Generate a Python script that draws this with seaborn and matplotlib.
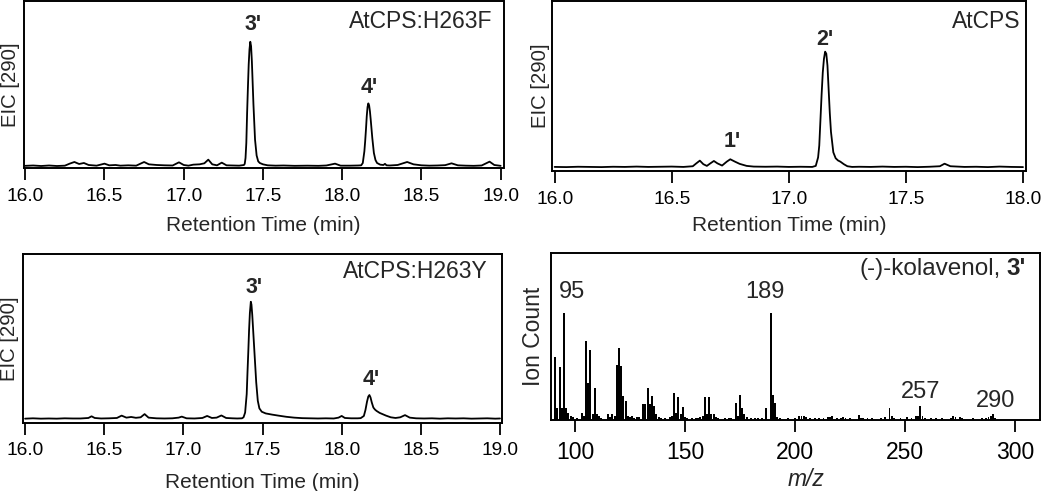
import matplotlib
matplotlib.use("Agg")
import matplotlib.pyplot as plt
import seaborn as sns
import pandas as pd

# ---------------- data ----------------
# Panel A: AtCPS:H263F  (EIC m/z 290)
h263f_time = [
    16.00, 16.05, 16.10, 16.15, 16.20, 16.25, 16.28, 16.31, 16.34, 16.37,
    16.40, 16.45, 16.50, 16.53, 16.57, 16.60, 16.65, 16.70, 16.75, 16.78,
    16.83, 16.88, 16.93, 16.97, 17.00, 17.03, 17.06, 17.10, 17.13, 17.155,
    17.18, 17.21, 17.24, 17.27, 17.31, 17.35, 17.38, 17.385, 17.39, 17.395,
    17.40, 17.405, 17.41, 17.415, 17.42, 17.425, 17.43, 17.44, 17.45, 17.46,
    17.47, 17.48, 17.50, 17.53, 17.58, 17.63, 17.70, 17.78, 17.85, 17.90,
    17.955, 17.99, 18.05, 18.10, 18.12, 18.13, 18.14, 18.145, 18.15, 18.155,
    18.16, 18.165, 18.17, 18.175, 18.18, 18.19, 18.20, 18.21, 18.22, 18.24,
    18.26, 18.27, 18.28, 18.30, 18.35, 18.41, 18.45, 18.50, 18.55, 18.60,
    18.65, 18.69, 18.73, 18.78, 18.83, 18.88, 18.93, 18.96, 19.00,
]
h263f_eic = [
    1.3, 1.5, 1.2, 1.5, 1.2, 1.4, 2.6, 3.6, 2.4, 3.0,
    1.8, 1.4, 2.6, 1.6, 1.8, 1.4, 1.6, 1.4, 3.6, 2.2,
    1.8, 1.6, 1.5, 3.4, 1.8, 1.4, 2.0, 2.2, 2.8, 5.0,
    2.2, 1.6, 3.2, 1.6, 1.5, 1.4, 1.8, 2.5, 6.0, 15.0,
    33.0, 48.0, 62.0, 71.0, 75.6, 73.0, 64.0, 38.0, 17.0, 7.5,
    4.0, 3.0, 2.2, 1.6, 1.4, 1.5, 1.3, 1.4, 1.3, 1.5,
    2.6, 1.4, 1.4, 1.5, 1.6, 3.0, 10.0, 16.0, 23.0, 31.0,
    36.5, 38.7, 37.5, 34.0, 29.0, 18.0, 9.0, 4.8, 3.0, 2.0,
    1.8, 2.5, 1.6, 1.5, 1.8, 3.6, 2.2, 1.6, 1.4, 1.5,
    1.7, 2.8, 1.6, 1.4, 1.3, 1.5, 3.8, 1.8, 1.3,
]

# Panel B: AtCPS (wild type)
atcps_time = [
    16.00, 16.05, 16.10, 16.15, 16.20, 16.25, 16.30, 16.35, 16.40, 16.45,
    16.50, 16.55, 16.59, 16.605, 16.62, 16.635, 16.65, 16.665, 16.68, 16.695,
    16.715, 16.735, 16.75, 16.77, 16.79, 16.82, 16.85, 16.90, 16.95, 17.00,
    17.05, 17.10, 17.115, 17.125, 17.13, 17.135, 17.14, 17.145, 17.15, 17.155,
    17.16, 17.165, 17.17, 17.175, 17.18, 17.19, 17.20, 17.21, 17.22, 17.235,
    17.25, 17.27, 17.30, 17.35, 17.40, 17.45, 17.50, 17.55, 17.60, 17.645,
    17.665, 17.69, 17.75, 17.80, 17.85, 17.90, 17.95, 18.00,
]
atcps_eic = [
    2.4, 2.3, 2.5, 2.4, 2.3, 2.5, 2.4, 2.6, 2.4, 2.5,
    2.6, 2.4, 2.8, 4.5, 6.1, 4.0, 3.0, 4.5, 5.9, 4.5,
    3.2, 5.5, 6.9, 5.5, 4.2, 3.0, 2.6, 2.5, 2.6, 2.4,
    2.5, 2.4, 3.0, 8.0, 15.0, 30.0, 45.0, 58.0, 66.0, 70.2,
    69.0, 62.0, 48.0, 34.0, 23.0, 11.0, 7.5, 6.2, 5.5, 4.0,
    2.8, 2.4, 2.5, 2.4, 2.6, 2.4, 2.5, 2.3, 2.5, 2.8,
    4.3, 2.8, 2.4, 2.5, 2.3, 2.6, 2.4, 2.3,
]

# Panel C: AtCPS:H263Y
h263y_time = [
    16.00, 16.05, 16.10, 16.15, 16.20, 16.25, 16.30, 16.35, 16.40, 16.42,
    16.44, 16.48, 16.53, 16.58, 16.61, 16.64, 16.67, 16.70, 16.73, 16.755,
    16.78, 16.83, 16.88, 16.93, 16.97, 16.99, 17.02, 17.07, 17.12, 17.15,
    17.18, 17.21, 17.24, 17.27, 17.31, 17.34, 17.37, 17.38, 17.39, 17.40,
    17.405, 17.41, 17.415, 17.42, 17.426, 17.43, 17.435, 17.44, 17.45, 17.46,
    17.47, 17.48, 17.495, 17.52, 17.56, 17.60, 17.65, 17.70, 17.75, 17.80,
    17.85, 17.90, 17.95, 17.98, 18.00, 18.02, 18.06, 18.10, 18.12, 18.14,
    18.15, 18.16, 18.168, 18.175, 18.182, 18.19, 18.20, 18.21, 18.22, 18.24,
    18.26, 18.28, 18.31, 18.34, 18.37, 18.40, 18.43, 18.47, 18.52, 18.57,
    18.62, 18.67, 18.72, 18.77, 18.82, 18.87, 18.92, 18.97, 19.00,
]
h263y_eic = [
    2.4, 2.6, 2.4, 2.5, 2.4, 2.6, 2.5, 2.5, 2.8, 3.8,
    2.8, 2.5, 2.6, 2.8, 4.2, 3.0, 3.4, 2.9, 3.2, 5.1,
    3.0, 2.6, 2.5, 2.6, 3.0, 3.6, 2.6, 2.5, 2.8, 4.0,
    2.8, 3.0, 4.3, 2.8, 2.6, 2.5, 2.6, 3.2, 6.0, 17.0,
    30.0, 42.0, 55.0, 65.0, 71.7, 70.0, 64.0, 56.0, 40.0, 24.0,
    13.0, 8.5, 6.5, 5.5, 4.8, 4.2, 3.5, 3.0, 2.7, 2.6,
    2.5, 2.6, 2.5, 3.0, 4.0, 2.8, 2.6, 2.6, 2.7, 4.0,
    7.5, 12.5, 15.5, 16.4, 15.0, 12.0, 9.0, 7.8, 7.0, 5.8,
    5.0, 4.2, 3.2, 2.8, 3.2, 4.5, 3.0, 2.6, 2.5, 2.6,
    2.4, 2.6, 2.5, 2.6, 2.4, 2.5, 2.6, 2.4, 2.5,
]

# Panel D: mass spectrum of (-)-kolavenol
ms_mz = [
    91, 92, 93, 94, 95, 96, 97, 98, 99, 101,
    103, 104, 105, 106, 107, 108, 109, 110, 111, 112,
    115, 116, 117, 118, 119, 120, 121, 122, 123, 124,
    125, 126, 127, 128, 129, 131, 132, 133, 134, 135,
    136, 137, 138, 139, 141, 143, 144, 145, 146, 147,
    148, 149, 150, 151, 153, 155, 156, 157, 158, 159,
    160, 161, 162, 163, 164, 165, 168, 170, 171, 173,
    174, 175, 176, 177, 178, 180, 182, 183, 185, 187,
    189, 190, 191, 192, 193, 197, 200, 202, 203, 204,
    205, 207, 209, 211, 213, 215, 216, 217, 219, 221,
    222, 223, 225, 229, 230, 231, 233, 235, 239, 241,
    243, 244, 245, 248, 251, 253, 255, 256, 257, 258,
    259, 262, 264, 267, 271, 272, 273, 275, 276, 281,
    285, 287, 288, 289, 290, 291,
]
ms_counts = [
    58.7, 11.0, 49.0, 11.0, 100.0, 11.0, 6.0, 3.0, 2.0, 1.5,
    5.7, 3.0, 73.7, 34.0, 65.7, 4.8, 30.0, 4.8, 3.0, 1.5,
    5.4, 2.0, 5.4, 3.0, 51.5, 67.3, 50.8, 22.5, 17.5, 3.0,
    2.0, 3.0, 1.5, 2.0, 2.5, 15.0, 15.0, 30.0, 15.0, 22.5,
    13.0, 5.0, 2.0, 1.5, 1.5, 2.0, 3.0, 25.0, 6.0, 21.6,
    4.8, 11.7, 2.0, 1.5, 1.5, 1.5, 1.8, 2.0, 3.0, 21.3,
    5.4, 21.6, 4.8, 4.8, 2.0, 1.5, 1.5, 1.5, 1.8, 15.9,
    3.0, 23.0, 11.0, 4.8, 2.0, 1.5, 1.5, 1.8, 1.5, 11.0,
    100.0, 23.0, 15.9, 2.0, 1.5, 1.5, 1.5, 3.0, 3.0, 3.0,
    2.0, 1.5, 1.5, 1.5, 1.8, 2.5, 2.0, 3.0, 1.8, 1.8,
    2.5, 1.8, 1.5, 3.8, 1.8, 1.8, 1.5, 1.5, 1.8, 2.5,
    11.0, 3.0, 1.8, 1.5, 2.0, 1.8, 3.0, 3.0, 12.7, 3.0,
    1.8, 1.8, 1.5, 1.5, 1.8, 3.0, 2.5, 2.0, 1.5, 1.5,
    1.5, 1.8, 2.5, 3.0, 4.8, 1.8,
]

chrom_ticks_a = [16.0, 16.5, 17.0, 17.5, 18.0, 18.5, 19.0]
chrom_ticks_b = [16.0, 16.5, 17.0, 17.5, 18.0]
ms_ticks = [100, 150, 200, 250, 300]

# ---------------- style ----------------
sns.set_style("white")
plt.rcParams['font.family'] = ['Liberation Sans', 'DejaVu Sans']
plt.rcParams['mathtext.default'] = 'regular'

W, H = 1050, 491
fig = plt.figure(figsize=(W / 100, H / 100), dpi=100)


def add_ax(left, right, top, bottom):
    return fig.add_axes([left / W, 1 - bottom / H, (right - left) / W, (bottom - top) / H])


def style(ax, labelsize):
    for s in ax.spines.values():
        s.set_visible(True)
        s.set_color('black')
        s.set_linewidth(1.4)
    ax.set_yticks([])
    ax.tick_params(axis='x', direction='out', length=8.6, width=1.3, color='black',
                   labelsize=labelsize, pad=5.5, bottom=True, labelcolor='black')
    ax.grid(False)
    ax.set_facecolor('white')


def chrom(ax, t, y, ticks, xlim, title, title_xy, peaks, ylab_x, xlab_y):
    df = pd.DataFrame({'t': t, 'eic': y})
    sns.lineplot(data=df, x='t', y='eic', ax=ax, color='black', linewidth=1.3,
                 estimator=None, sort=False)
    ax.set_xlim(*xlim)
    ax.set_ylim(0, 100)
    style(ax, 13.8)
    ax.set_xticks(ticks)
    ax.set_xticklabels([f"{v:.1f}" for v in ticks])
    ax.set_xlabel("Retention Time (min)", fontsize=15)
    ax.set_ylabel("EIC [290]", fontsize=14.6)
    ax.xaxis.set_label_coords(0.5, xlab_y)
    ax.yaxis.set_label_coords(ylab_x, 0.5)
    ax.text(title_xy[0], title_xy[1], title, transform=ax.transAxes, ha='right',
            va='baseline', fontsize=16.5)
    for lab, px, py, dx, dy in peaks:
        ax.annotate(lab, xy=(px, py), xytext=(dx, dy), textcoords='offset pixels',
                    ha='center', va='baseline', fontsize=15.5, fontweight='bold')


axA = add_ax(24, 503.5, 1, 168)
chrom(axA, h263f_time, h263f_eic, chrom_ticks_a, (15.992, 19.018), "AtCPS:H263F",
      (0.976, 0.838), [("3'", 17.42, 75.6, 3, 11.5), ("4'", 18.165, 38.7, 1, 10)],
      -0.0073, -0.287)

axB = add_ax(552.3, 1025.7, 1, 171)
chrom(axB, atcps_time, atcps_eic, chrom_ticks_b, (15.990, 18.0115), "AtCPS",
      (0.988, 0.841), [("2'", 17.155, 70.2, 0, 7), ("1'", 16.75, 6.9, 1.5, 12)],
      -0.004, -0.265)

axC = add_ax(22.7, 502.3, 254, 422.7)
chrom(axC, h263y_time, h263y_eic, chrom_ticks_a, (15.985, 19.0145), "AtCPS:H263Y",
      (0.970, 0.856), [("3'", 17.426, 71.7, 3, 9), ("4'", 18.175, 16.4, 2, 10)],
      -0.0067, -0.298)

# mass spectrum
axD = add_ax(550.7, 1040, 253.3, 419.5)
msdf = pd.DataFrame({'mz': ms_mz, 'count': ms_counts})
sns.barplot(data=msdf, x='mz', y='count', ax=axD, native_scale=True, orient='x',
            color='black', width=0.85, linewidth=0, errorbar=None, saturation=1)
axD.set_xlim(88.95, 311.4)
axD.set_ylim(0, 156.5)
style(axD, 16.5)
axD.tick_params(axis='x', pad=7)
axD.set_xticks(ms_ticks)
axD.set_xticklabels([str(v) for v in ms_ticks])
axD.set_xlabel("m/z", fontsize=16.5, style='italic')
axD.set_ylabel("Ion Count", fontsize=16.5)
axD.xaxis.set_label_coords(0.522, -0.29)
axD.yaxis.set_label_coords(-0.0116, 0.5)

for lab, mz, h, dx, dy in [("95", 95, 100.0, 8, 15), ("189", 189, 100.0, -6, 15),
                           ("257", 257, 12.7, 0, 8), ("290", 290, 4.8, 3, 7)]:
    axD.annotate(lab, xy=(mz, h), xytext=(dx, dy), textcoords='offset pixels',
                 ha='center', va='baseline', fontsize=17)

t_bold = axD.text(0.971, 0.869, "3'", transform=axD.transAxes, ha='right',
                  va='baseline', fontsize=17.5, fontweight='bold')
axD.annotate("(-)-kolavenol,", xy=(0, 0), xycoords=t_bold, xytext=(-6, 0),
             textcoords='offset pixels', ha='right', va='bottom', fontsize=17.5)

fig.savefig("out.png", dpi=100, facecolor='white')
